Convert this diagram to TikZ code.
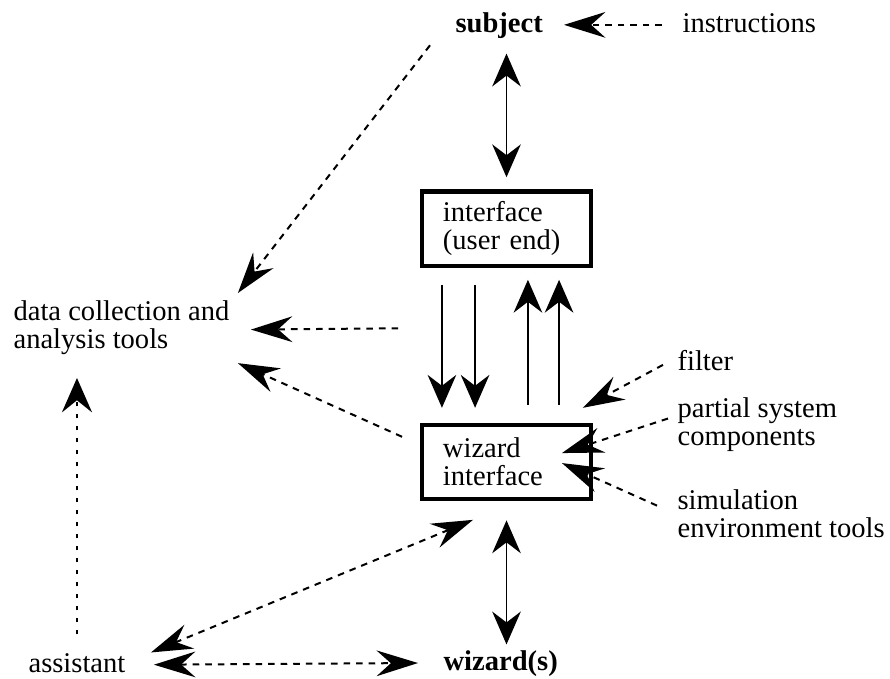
\documentclass[tikz,border=0pt]{standalone}
\usepackage{fontspec}
\setmainfont{Liberation Serif}
\usetikzlibrary{positioning,arrows.meta}

\begin{document}
\begin{tikzpicture}[x=0.35pt,y=-0.35pt,
        every node/.style={font=\fontsize{10pt}{9.8pt}\selectfont,inner sep=0pt},
        lbl/.style={anchor=base west,text height=7pt,text depth=2pt},
        txt/.style={anchor=north west,align=left},
        box/.style={draw,line width=1.5pt,minimum width=59pt,minimum height=26pt,
            text width=44.5pt,align=left},
        sol/.style={line width=0.6pt,>={Stealth[length=11.5pt,width=10pt,inset=3.8pt]}},
        dsh/.style={line width=0.7pt,dash pattern=on 2.3pt off 2.1pt,
            >={Stealth[length=14.5pt,width=9pt,inset=5pt]}},
        dot/.style={line width=0.9pt,dash pattern=on 1.6pt off 2.6pt,
            >={Stealth[length=12pt,width=10.5pt,inset=4.2pt]}}]
            \useasboundingbox (0,0) rectangle (890,678);
            \node[lbl](subj) at (455,32){\textbf{subject}};
            \node[lbl](inst) at (682,32){instructions};
            \node[box](ui) at (506.5,228.5){interface\\(user end)};
            \node[box](wi)[below =54.25pt of ui]{wizard\\interface};
            \node[txt](data) at (13,300){data collection and\\analysis tools};
            \node[lbl](filt) at (677,370){filter};
            \node[txt](part) at (677,397){partial system\\components};
            \node[txt](sim) at (677,489){simulation\\environment tools};
            \node[lbl](asst) at (28,672){assistant};
            \node[lbl](wiz) at (443,670){\textbf{wizard(s)}};
            \path[sol](subj.south -| ui.north) edge[<->,shorten <=5.35pt,shorten >=4.2pt](ui.north)
                    ([xshift=-22.6pt]ui.south) edge[->,shorten <=6pt,shorten >=5.25pt]([xshift=-22.6pt]wi.north)
                    ([xshift=-11pt]ui.south) edge[->,shorten <=6pt,shorten >=5.25pt]([xshift=-11pt]wi.north)
                    ([xshift=7.5pt]wi.north) edge[->,shorten <=6.3pt,shorten >=4.2pt]([xshift=7.5pt]ui.south)
                    ([xshift=18.4pt]wi.north) edge[->,shorten <=6.3pt,shorten >=4.2pt]([xshift=18.4pt]ui.south)
                    (wi.south) edge[<->,shorten <=6.65pt,shorten >=1.75pt](wi.south |- wiz.north);
            \path[dsh](inst.west) edge[->,shorten <=7pt,shorten >=7.2pt](subj.east)
                    ([shift={(-25,7)}]subj.south west) edge[->]([shift={(8,-7)}]data.north east)
                    ([shift={(-22,60.5)}]ui.south west) edge[->]([shift={(21,2)}]data.east)
                    ([shift={(-18,14)}]wi.north west) edge[->]([shift={(8,8)}]data.south east)
                    ([shift={(-14,2)}]filt.west) edge[->]([shift={(-10,-15)}]wi.north east)
                    ([shift={(-9,-6)}]part.west) edge[->]([shift={(-31,-9)}]wi.east)
                    ([shift={(-20,-8)}]sim.west) edge[->]([shift={(-31,1)}]wi.east)
                    (asst.east) edge[<->,shorten <=9.8pt,shorten >=8.75pt](wiz.west)
                    ([shift={(25,1)}]asst.north east) edge[<->]([shift={(-33.5,18.5)}]wi.south);
            \path[dot](asst.north) edge[->,shorten <=6pt,shorten >=8pt](asst.north |- data.south);
        \end{tikzpicture}
\end{document}
